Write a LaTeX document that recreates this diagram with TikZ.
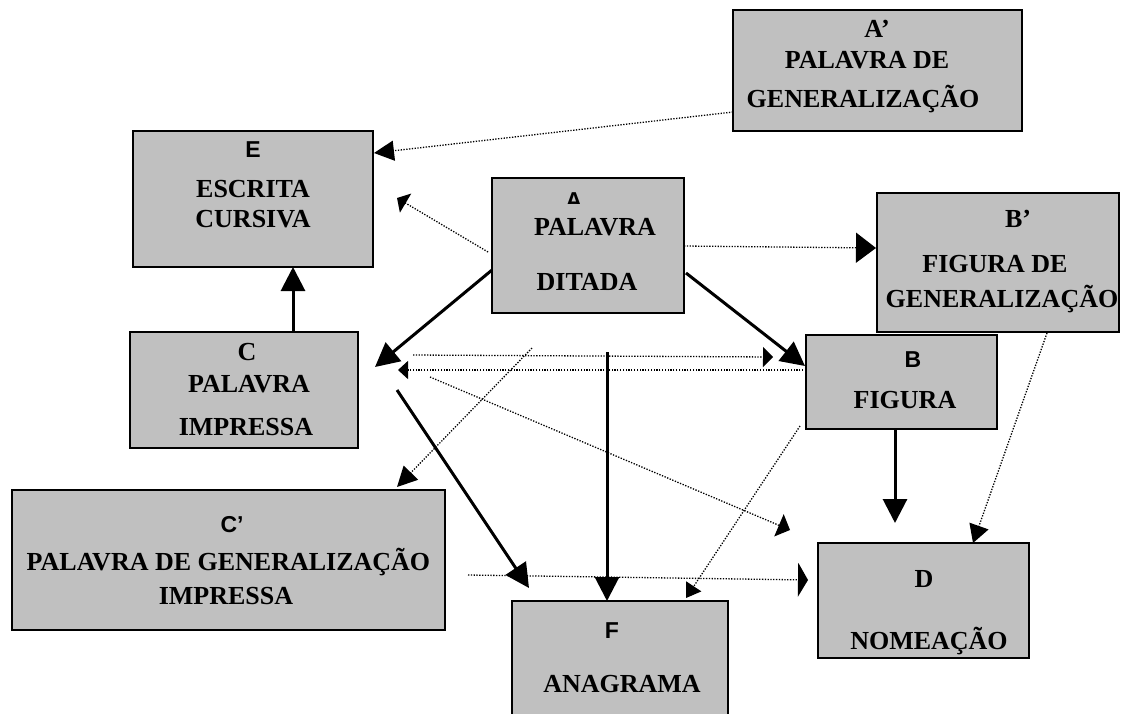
\documentclass[tikz,border=0pt]{standalone}
\usepackage{fontspec}
\setmainfont{Liberation Serif}
\setsansfont{Liberation Sans}
\usetikzlibrary{arrows.meta}
\definecolor{boxgray}{HTML}{C0C0C0}
\tikzset{
  box/.style={draw=black, line width=1.5pt, fill=boxgray, inner sep=0pt},
  lbl/.style={anchor=base, inner sep=0pt, font=\fontsize{26}{30}\selectfont\bfseries},
  slbl/.style={anchor=base, inner sep=0pt, font=\fontsize{23}{27}\selectfont\sffamily\bfseries},
  solidarr/.style={line width=3pt, -{Triangle[length=24pt,width=24pt]}},
  dotarr/.style={line width=1.3pt, dash pattern=on 1.3pt off 1.5pt, -{Triangle[length=14pt,width=22pt]}},
}
\begin{document}
\begin{tikzpicture}[x=1pt,y=-1pt]
\useasboundingbox (0,0) rectangle (1124,713);
\clip (0,0) rectangle (1124,713);
% boxes
\node[box, minimum width=289pt, minimum height=121pt] (Ap) at (877.5,70.5) {};
\node[box, minimum width=240pt, minimum height=136pt] (E) at (253,199) {};
\node[box, minimum width=192pt, minimum height=135pt] (A) at (588,245.5) {};
\node[box, minimum width=242pt, minimum height=139pt] (Bp) at (998,262.5) {};
\node[box, minimum width=191pt, minimum height=94pt] (B) at (901.5,382) {};
\node[box, minimum width=228pt, minimum height=116pt] (C) at (244,390) {};
\node[box, minimum width=433pt, minimum height=140pt] (Cp) at (228.5,560) {};
\node[box, minimum width=216pt, minimum height=118pt] (F) at (620,660) {};
\node[box, minimum width=211pt, minimum height=115pt] (D) at (923.5,600.5) {};
% texts
\node[lbl] (ap1) at (877,37) {A’};
\node[lbl] (ap2) at (867,68) {PALAVRA DE};
\node[lbl] (ap3) at (863,107) {GENERALIZAÇÃO};
\node[slbl] (e1) at (253,157) {E};
\node[lbl] (e2) at (253,197) {ESCRITA};
\node[lbl] (e3) at (253,227) {CURSIVA};
\begin{scope}
\clip (540,180) rectangle (620,203);
\node[slbl] (a0) at (574,208.5) {A};
\end{scope}
\node[lbl] (a1) at (595,235) {PALAVRA};
\node[lbl] (a2) at (587,290) {DITADA};
\node[lbl] (bp1) at (1018,227) {B’};
\node[lbl] (bp2) at (995,272) {FIGURA DE};
\node[lbl] (bp3) at (1002,307) {GENERALIZAÇÃO};
\node[slbl] (b1) at (913,367) {B};
\node[lbl] (b2) at (905,408) {FIGURA};
\node[lbl] (c1) at (247,360) {C};
\node[lbl] (c2) at (249,392) {PALAVRA};
\node[lbl] (c3) at (246,435) {IMPRESSA};
\node[slbl] (cp1) at (232,532) {C’};
\node[lbl] (cp2) at (228.5,570) {PALAVRA DE GENERALIZAÇÃO};
\node[lbl] (cp3) at (226,604) {IMPRESSA};
\node[lbl] (d1) at (924,587) {D};
\node[lbl] (d2) at (929,649) {NOMEAÇÃO};
\node[slbl] (f1) at (612,638) {F};
\node[lbl] (f2) at (622,692) {ANAGRAMA};
% connector end points
\coordinate (aC1) at (492,270); \coordinate (aC2) at (375,367);
\coordinate (aB1) at (686,273); \coordinate (aB2) at (805,366);
\coordinate (cE1) at (293,332); \coordinate (cE2) at (293,267);
\coordinate (aF1) at (607,352); \coordinate (aF2) at (607,601);
\coordinate (cF1) at (397,390); \coordinate (cF2) at (529,588);
\coordinate (bD1) at (895,429); \coordinate (bD2) at (895,523);
\coordinate (apE1) at (733,112); \coordinate (apE2) at (374,153);
\coordinate (aE1) at (488,252); \coordinate (aE2) at (397,198);
\coordinate (aBp1) at (684,246); \coordinate (aBp2) at (876,248);
\coordinate (cB1) at (413,355); \coordinate (cB2) at (773,357);
\coordinate (bC1) at (806,370); \coordinate (bC2) at (398,370);
\coordinate (aCp1) at (532,348); \coordinate (aCp2) at (397,487);
\coordinate (cD1) at (430,377); \coordinate (cD2) at (790,530);
\coordinate (bF1) at (800,426); \coordinate (bF2) at (686,598);
\coordinate (cpD1) at (468,575); \coordinate (cpD2) at (808,580);
\coordinate (bpD1) at (1047,333); \coordinate (bpD2) at (973,543);
% solid connectors
\draw[solidarr] (aC1) -- (aC2);
\draw[solidarr] (aB1) -- (aB2);
\draw[solidarr] (cE1) -- (cE2);
\draw[solidarr] (aF1) -- (aF2);
\draw[solidarr] (cF1) -- (cF2);
\draw[solidarr] (bD1) -- (bD2);
% dotted connectors
\draw[dotarr, -{Triangle[length=20pt,width=20pt]}] (apE1) -- (apE2);
\draw[dotarr, -{Triangle[length=10pt,width=22pt]}] (aE1) -- (aE2);
\draw[dotarr, -{Triangle[length=20pt,width=30pt]}] (aBp1) -- (aBp2);
\draw[dotarr, -{Triangle[length=10pt,width=20pt]}] (cB1) -- (cB2);
\draw[dotarr, -{Triangle[length=10pt,width=18pt]}] (bC1) -- (bC2);
\draw[dotarr, -{Triangle[length=20pt,width=20pt]}] (aCp1) -- (aCp2);
\draw[dotarr, -{Triangle[length=12pt,width=24pt]}] (cD1) -- (cD2);
\draw[dotarr, -{Triangle[length=14pt,width=18pt]}] (bF1) -- (bF2);
\draw[dotarr, -{Triangle[length=10pt,width=34pt]}] (cpD1) -- (cpD2);
\draw[dotarr, -{Triangle[length=18pt,width=20pt]}] (bpD1) -- (bpD2);
\end{tikzpicture}
\end{document}
